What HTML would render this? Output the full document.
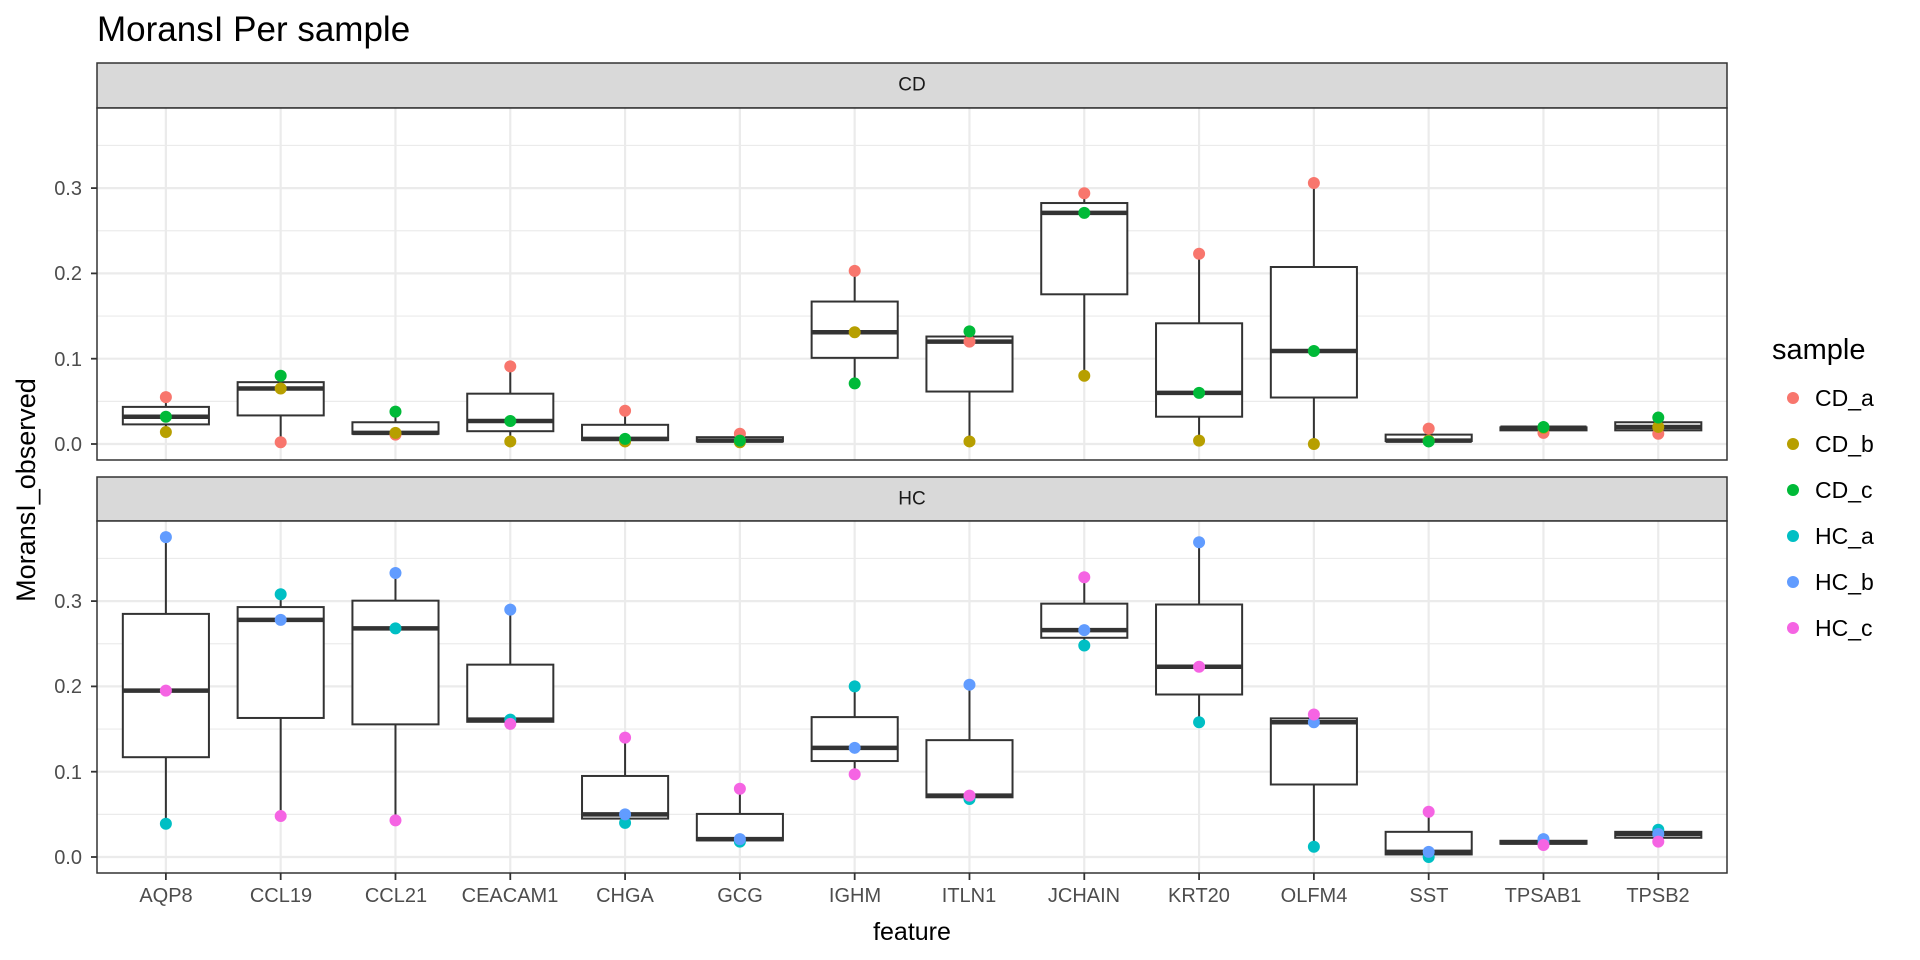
<!DOCTYPE html>
<html><head><meta charset="utf-8"><style>
html,body{margin:0;padding:0;background:#fff;}
svg{display:block;font-family:"Liberation Sans",sans-serif;}
</style></head><body>
<svg id="s" width="1920" height="960" viewBox="0 0 1920 960" xmlns="http://www.w3.org/2000/svg">
<rect width="1920" height="960" fill="#fff"/>
<g id="plot"></g>
<text x="97" y="41" font-size="35" fill="#000">MoransI Per sample</text>
<text x="912" y="85" font-size="19" fill="#1A1A1A" text-anchor="middle" dominant-baseline="central">CD</text>
<text x="912" y="499" font-size="19" fill="#1A1A1A" text-anchor="middle" dominant-baseline="central">HC</text>
<g font-size="20" fill="#4D4D4D" text-anchor="end">
<text x="82" y="451">0.0</text><text x="82" y="366">0.1</text><text x="82" y="280">0.2</text><text x="82" y="195">0.3</text>
<text x="82" y="864">0.0</text><text x="82" y="779">0.1</text><text x="82" y="693">0.2</text><text x="82" y="608">0.3</text>
</g>
<g font-size="20" fill="#4D4D4D" text-anchor="middle">
<text x="166" y="902">AQP8</text><text x="281" y="902">CCL19</text><text x="396" y="902">CCL21</text><text x="510" y="902">CEACAM1</text><text x="625" y="902">CHGA</text><text x="740" y="902">GCG</text><text x="855" y="902">IGHM</text><text x="969" y="902">ITLN1</text><text x="1084" y="902">JCHAIN</text><text x="1199" y="902">KRT20</text><text x="1314" y="902">OLFM4</text><text x="1429" y="902">SST</text><text x="1543" y="902">TPSAB1</text><text x="1658" y="902">TPSB2</text>
</g>
<text x="912" y="940" font-size="25" fill="#000" text-anchor="middle">feature</text>
<text transform="translate(35,490) rotate(-90)" font-size="27" fill="#000" text-anchor="middle">MoransI_observed</text>
<text x="1772" y="359" font-size="29" fill="#000">sample</text>
<g font-size="23" fill="#000">
<circle cx="1793" cy="398" r="6" fill="#F8766D"/><text x="1815" y="406">CD_a</text>
<circle cx="1793" cy="444" r="6" fill="#B79F00"/><text x="1815" y="452">CD_b</text>
<circle cx="1793" cy="490" r="6" fill="#00BA38"/><text x="1815" y="498">CD_c</text>
<circle cx="1793" cy="536" r="6" fill="#00BFC4"/><text x="1815" y="544">HC_a</text>
<circle cx="1793" cy="582" r="6" fill="#619CFF"/><text x="1815" y="590">HC_b</text>
<circle cx="1793" cy="628" r="6" fill="#F564E3"/><text x="1815" y="636">HC_c</text>
</g>
</svg>
<script>
(function(){
var NS="http://www.w3.org/2000/svg",g=document.getElementById("plot");
function el(t,a){var e=document.createElementNS(NS,t);for(var k in a)e.setAttribute(k,a[k]);g.appendChild(e);return e;}
var L=97,R=1727,U=114.8,x0=L+0.6*U;
var panels=[
 {top:108,bot:460,zero:444,stripTop:63,cols:["#F8766D","#B79F00","#00BA38"],
  d:[[.055,.014,.032],[.002,.065,.080],[.011,.013,.038],[.091,.003,.027],[.039,.003,.006],[.012,.002,.004],[.203,.131,.071],[.120,.003,.132],[.294,.080,.271],[.223,.004,.060],[.306,.000,.109],[.018,.004,.003],[.013,.019,.020],[.012,.020,.031]]},
 {top:521,bot:873,zero:857,stripTop:477,cols:["#00BFC4","#619CFF","#F564E3"],
  d:[[.039,.375,.195],[.308,.278,.048],[.268,.333,.043],[.161,.290,.156],[.040,.050,.140],[.018,.021,.080],[.200,.128,.097],[.068,.202,.072],[.248,.266,.328],[.158,.369,.223],[.012,.158,.167],[.000,.006,.053],[.017,.021,.014],[.032,.027,.018]]}
];
var S=853;
panels.forEach(function(p){
 function Y(v){return p.zero-v*S;}
 el("rect",{x:L,y:p.stripTop,width:R-L,height:p.top-p.stripTop,fill:"#D9D9D9",stroke:"#333",'stroke-width':1.5});
 el("rect",{x:L,y:p.top,width:R-L,height:p.bot-p.top,fill:"#fff"});
 for(var v=0.05;v<0.4;v+=0.1){var y=Y(v);if(y>p.top)el("line",{x1:L,x2:R,y1:y,y2:y,stroke:"#EBEBEB",'stroke-width':1.2});}
 for(var i=0;i<4;i++){var y=Y(i*0.1);el("line",{x1:L,x2:R,y1:y,y2:y,stroke:"#EBEBEB",'stroke-width':2.2});
   el("line",{x1:L-6,x2:L,y1:y,y2:y,stroke:"#333",'stroke-width':1.8});}
 for(var j=0;j<14;j++){var x=x0+j*U;el("line",{x1:x,x2:x,y1:p.top,y2:p.bot,stroke:"#EBEBEB",'stroke-width':2.2});}
 p.d.forEach(function(pts,j){
  var s=pts.slice().sort(function(a,b){return a-b;});
  var mn=s[0],md=s[1],mx=s[2],q1=(mn+md)/2,q3=(md+mx)/2;
  var x=x0+j*U,hw=0.375*U;
  el("line",{x1:x,x2:x,y1:Y(q3),y2:Y(mx),stroke:"#333",'stroke-width':2});
  el("line",{x1:x,x2:x,y1:Y(q1),y2:Y(mn),stroke:"#333",'stroke-width':2});
  el("rect",{x:x-hw,y:Y(q3),width:2*hw,height:Math.max(Y(q1)-Y(q3),0.5),fill:"#fff",stroke:"#333",'stroke-width':2});
  el("line",{x1:x-hw,x2:x+hw,y1:Y(md),y2:Y(md),stroke:"#333",'stroke-width':4.5});
  pts.forEach(function(v,k){el("circle",{cx:x,cy:Y(v),r:6,fill:p.cols[k]});});
 });
 el("rect",{x:L,y:p.top,width:R-L,height:p.bot-p.top,fill:"none",stroke:"#333",'stroke-width':1.5});
});
for(var j=0;j<14;j++){var x=x0+j*U;el("line",{x1:x,x2:x,y1:873,y2:880,stroke:"#333",'stroke-width':1.8});}
})();
</script>
</body></html>
